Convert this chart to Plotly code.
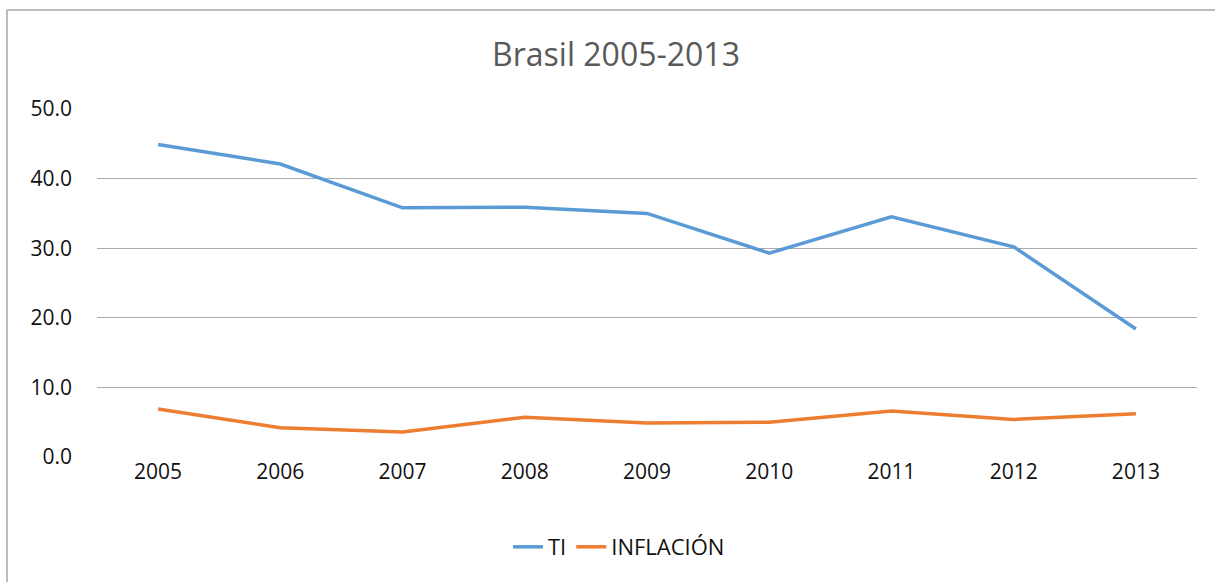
import plotly.graph_objects as go

years = ["2005", "2006", "2007", "2008", "2009", "2010", "2011", "2012", "2013"]
ti = [44.9, 42.1, 35.8, 35.9, 35.0, 29.3, 34.5, 30.2, 18.4]
inflacion = [6.9, 4.2, 3.6, 5.7, 4.9, 5.0, 6.6, 5.4, 6.2]
y_ticks = [0, 10, 20, 30, 40, 50]

fig = go.Figure()
fig.add_trace(go.Scatter(x=years, y=ti, name="TI", mode="lines",
                         line=dict(color="#5B9BD5", width=3.5)))
fig.add_trace(go.Scatter(x=years, y=inflacion, name="INFLACIÓN", mode="lines",
                         line=dict(color="#ED7D31", width=3.5)))

font_family = "Open Sans, Liberation Sans, sans-serif"

W, H = 1215, 582
L, T, PW, PH = 97, 109, 1100, 348

border = dict(color="#A6A6A6", width=1.5)
left_x = (7 - L) / PW
top_y = (T + PH - 10) / PH

fig.update_layout(
    width=W, height=H,
    margin=dict(l=L, r=W - L - PW, t=T, b=H - T - PH),
    paper_bgcolor="white", plot_bgcolor="white",
    title=dict(text="Brasil 2005-2013", x=616 / W, xanchor="center",
               y=1 - 55 / H, yanchor="middle",
               font=dict(family=font_family, size=32, color="#595959")),
    font=dict(family=font_family, size=21, color="#111111"),
    showlegend=True,
    legend=dict(orientation="h", x=(619 - L) / PW, xanchor="center",
                y=(T + PH - 547) / PH, yanchor="middle",
                font=dict(family=font_family, size=22, color="#111111"),
                traceorder="normal"),
    xaxis=dict(type="category", range=[-0.5, 8.5], showgrid=False, zeroline=False,
               showline=False, ticks="", tickfont=dict(size=21)),
    yaxis=dict(range=[0, 50], tickvals=y_ticks, tickformat=".1f", showgrid=True,
               gridcolor="#ABABAB", gridwidth=1.3, zeroline=False, showline=False,
               ticks="", ticklabelstandoff=24, tickfont=dict(size=21)),
    shapes=[
        dict(type="line", xref="paper", yref="paper",
             x0=left_x, x1=left_x, y0=(T + PH - H - 20) / PH, y1=top_y,
             line=border, layer="below"),
        dict(type="line", xref="paper", yref="paper",
             x0=left_x, x1=(W + 20 - L) / PW, y0=top_y, y1=top_y,
             line=border, layer="below"),
    ],
)

fig.write_html(
    "out.html",
    config={"displayModeBar": False},
    post_script="document.body.style.margin='0';document.body.style.overflow='hidden';",
)
